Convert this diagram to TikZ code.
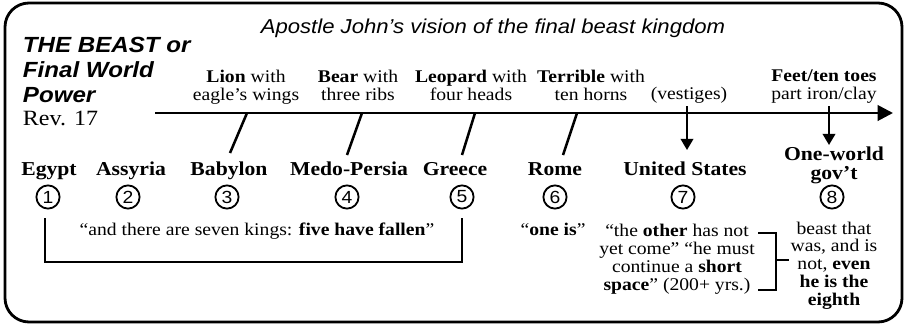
\documentclass[tikz,border=0pt]{standalone}
\usepackage{fontspec}
\setmainfont{Liberation Serif}[FakeStretch=1.1]
\setsansfont{Liberation Sans}[FakeStretch=1.1]
\usetikzlibrary{arrows.meta}
\begin{document}
\begin{tikzpicture}
        [x=0.025cm, y=-0.025cm,
        kingdom/.style={anchor=base, font=\fontsize{14}{13.2}\selectfont\bfseries},
        beastLabel/.style={anchor=base, align=center, font=\fontsize{12.7}{12.3}\selectfont},
        numCircle/.style={circle, draw, line width=1.3pt, minimum size=0.58cm, inner sep=0pt, font=\sffamily\fontsize{12.5}{12.5}\selectfont},
        quoteText/.style={anchor=base, align=center, font=\fontsize{12.7}{12.6}\selectfont},
        heading/.style={anchor=base west, font=\sffamily\bfseries\itshape\fontsize{15.6}{15.6}\selectfont},
        link/.style={line width=1.8pt},
        bracket/.style={line width=1.5pt}]
        \useasboundingbox (0,0) rectangle (906,325);
        \draw[line width=2pt, rounded corners=0.6cm] (5,3) rectangle (902,322);

        % title and heading
        \node[anchor=base, font=\sffamily\itshape\fontsize{14.3}{14.3}\selectfont] (title) at (493,33) {Apostle John’s vision of the final beast kingdom};
        \node[heading] (beast) at (18,52) {THE BEAST or};
        \node[heading] (world) at (18,77) {Final World};
        \node[heading] (power) at (18,102) {Power};
        \node[anchor=base west, font=\fontsize{15.5}{15.5}\selectfont] (rev) at (18,125) {Rev. 17};

        % time line
        \coordinate (lineStart) at (155,113);
        \coordinate (lineEnd) at (893,113);
        \draw[line width=2pt, -{Triangle[length=11pt,width=11pt]}] (lineStart) -- (lineEnd);

        % beasts above the line (base = last line)
        \node[beastLabel] (lion) at (246,100) {\textbf{Lion} with\\eagle’s wings};
        \node[beastLabel] (bear) at (358,100) {\textbf{Bear} with\\three ribs};
        \node[beastLabel] (leopard) at (471,100) {\textbf{Leopard} with\\four heads};
        \node[beastLabel] (terrible) at (591,100) {\textbf{Terrible} with\\ten horns};
        \node[beastLabel] (vestiges) at (689,99) {(vestiges)};
        \node[beastLabel] (feet) at (824,99) {\textbf{Feet/ten toes}\\part iron/clay};

        \coordinate (lionTop) at (247,113);
        \coordinate (lionFoot) at (230,153);
        \coordinate (bearTop) at (362,113);
        \coordinate (bearFoot) at (347,155);
        \coordinate (leopardTop) at (475,113);
        \coordinate (leopardFoot) at (462,155);
        \coordinate (terribleTop) at (577,113);
        \coordinate (terribleFoot) at (563,155);
        \coordinate (vestTop) at (687,106);
        \coordinate (vestTip) at (687,150);
        \coordinate (feetTop) at (829,106);
        \coordinate (feetTip) at (829,145);

        \draw[link] (lionTop) -- (lionFoot);
        \draw[link] (bearTop) -- (bearFoot);
        \draw[link] (leopardTop) -- (leopardFoot);
        \draw[link] (terribleTop) -- (terribleFoot);
        \draw[line width=1.5pt, -{Triangle[length=8pt,width=9pt]}] (vestTop) -- (vestTip);
        \draw[line width=1.5pt, -{Triangle[length=8pt,width=9pt]}] (feetTop) -- (feetTip);

        % kingdoms
        \node[kingdom] (egypt) at (49,175) {Egypt};
        \node[kingdom] (assyria) at (131,175) {Assyria};
        \node[kingdom] (babylon) at (229,175) {Babylon};
        \node[kingdom] (medo) at (349,175) {Medo-Persia};
        \node[kingdom] (greece) at (455,175) {Greece};
        \node[kingdom] (rome) at (555,175) {Rome};
        \node[kingdom] (usa) at (685,175) {United States};
        \node[kingdom, align=center] (oneWorld) at (834,179) {One-world\\gov’t};

        \node[numCircle] (num1) at (48,197) {1};
        \node[numCircle] (num2) at (128,197) {2};
        \node[numCircle] (num3) at (227,197) {3};
        \node[numCircle] (num4) at (347,197) {4};
        \node[numCircle] (num5) at (462,197) {5};
        \node[numCircle] (num6) at (555,197) {6};
        \node[numCircle] (num7) at (683,197) {7};
        \node[numCircle] (num8) at (832,197) {8};

        % sayings
        \coordinate (fallenL) at (45,218);
        \coordinate (fallenR) at (462,218);
        \draw[bracket] (fallenL) -- ++(0,44) -| (fallenR);
        \node[quoteText] (fallen) at (257,235) {“and there are seven kings: \textbf{five have fallen}”};
        \node[quoteText] (oneIs) at (553,235) {“\textbf{one is}”};
        \node[quoteText] (other) at (677,290) {“the \textbf{other} has not\\yet come” “he must\\continue a \textbf{short}\\\textbf{space}” (200+ yrs.)};
        \node[quoteText] (eighth) at (834,305) {beast that\\was, and is\\not, \textbf{even}\\\textbf{he is the}\\\textbf{eighth}};

        \coordinate (otherTop) at (758,233);
        \coordinate (otherBot) at (758,290);
        \coordinate (joint) at (776,260);
        \coordinate (eighthTip) at (789,260);
        \draw[bracket] (otherTop) -- ++(18,0) |- (otherBot);
        \draw[bracket] (joint) -- (eighthTip);
\end{tikzpicture}
\end{document}
